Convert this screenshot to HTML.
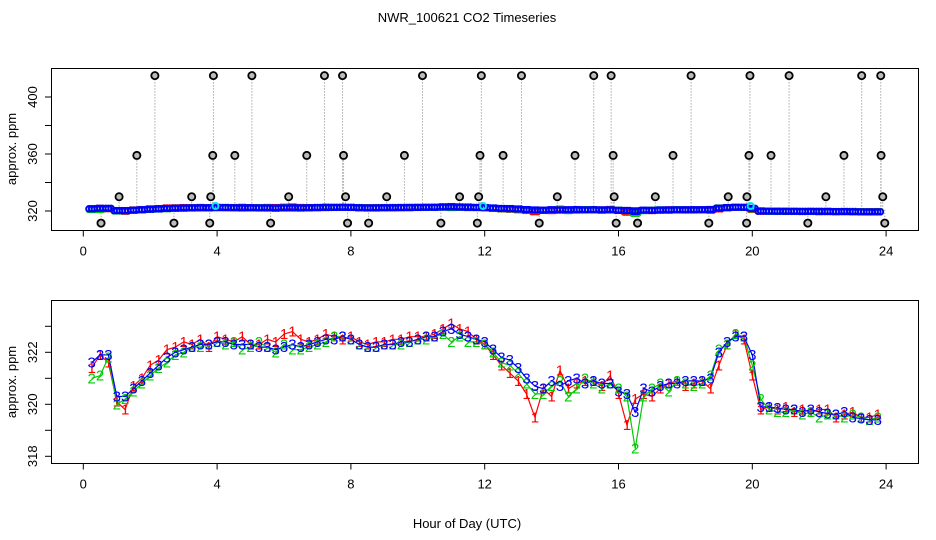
<!DOCTYPE html>
<html><head><meta charset="utf-8"><style>
body{margin:0;background:#fff}
svg{display:block;font-family:"Liberation Sans",sans-serif}
</style></head><body>
<svg id="chart" width="936" height="540" viewBox="0 0 936 540">
<text x="467" y="22" text-anchor="middle" font-size="13">NWR_100621  CO2 Timeseries</text>
<rect x="51.5" y="68.5" width="867" height="162" fill="none" stroke="#000"/>
<rect x="51.5" y="300.5" width="867" height="163" fill="none" stroke="#000"/>
<text transform="translate(16,149) rotate(-90)" text-anchor="middle" font-size="13">approx. ppm</text>
<text transform="translate(16,382) rotate(-90)" text-anchor="middle" font-size="13">approx. ppm</text>
<text x="467" y="528" text-anchor="middle" font-size="13">Hour of Day (UTC)</text>
<g id="top"></g><g id="bot"></g>
</svg>
<script>
const hours=[0.25,0.5,0.75,1,1.25,1.5,1.75,2,2.25,2.5,2.75,3,3.25,3.5,3.75,4,4.25,4.5,4.75,5,5.25,5.5,5.75,6,6.25,6.5,6.75,7,7.25,7.5,7.75,8,8.25,8.5,8.75,9,9.25,9.5,9.75,10,10.25,10.5,10.75,11,11.25,11.5,11.75,12,12.25,12.5,12.75,13,13.25,13.5,13.75,14,14.25,14.5,14.75,15,15.25,15.5,15.75,16,16.25,16.5,16.75,17,17.25,17.5,17.75,18,18.25,18.5,18.75,19,19.25,19.5,19.75,20,20.25,20.5,20.75,21,21.25,21.5,21.75,22,22.25,22.5,22.75,23,23.25,23.5,23.75];
const series3=[321.6,321.9,321.9,320.3,320.3,320.6,320.9,321.2,321.5,321.8,322.0,322.1,322.2,322.3,322.3,322.4,322.4,322.3,322.3,322.3,322.2,322.2,322.1,322.2,322.3,322.2,322.3,322.4,322.5,322.5,322.6,322.5,322.3,322.2,322.2,322.3,322.3,322.4,322.4,322.5,322.6,322.6,322.8,322.9,322.7,322.6,322.5,322.4,322.1,321.8,321.7,321.4,321.0,320.7,320.6,320.9,320.7,320.9,321.0,320.8,320.9,320.8,320.8,320.5,320.4,319.7,320.6,320.5,320.7,320.8,320.8,320.9,320.9,320.9,321.0,322.0,322.4,322.6,322.6,321.9,319.9,319.9,319.85,319.8,319.8,319.7,319.8,319.7,319.65,319.6,319.7,319.5,319.45,319.4,319.4];
const series1=[321.4,321.9,321.6,320.1,319.8,320.7,321.0,321.5,321.7,322.1,322.2,322.4,322.3,322.5,322.2,322.6,322.5,322.4,322.6,322.3,322.3,322.5,322.4,322.7,322.8,322.5,322.4,322.5,322.7,322.6,322.5,322.6,322.4,322.3,322.4,322.4,322.5,322.5,322.6,322.6,322.6,322.7,322.9,323.1,322.9,322.8,322.5,322.3,321.9,321.5,321.2,320.9,320.4,319.5,320.6,320.3,321.3,320.6,320.8,320.9,320.9,320.7,321.1,320.4,319.2,320.2,320.4,320.3,320.6,320.8,320.9,320.7,320.8,320.9,320.6,321.5,322.3,322.7,322.5,321.1,319.8,319.9,319.8,319.9,319.7,319.8,319.7,319.8,319.8,319.5,319.6,319.7,319.5,319.5,319.6];
const series2=[321.0,321.1,321.8,320.0,320.2,320.5,320.8,321.1,321.4,321.6,321.9,322.0,322.2,322.2,322.3,322.4,322.3,322.4,322.1,322.2,322.4,322.2,322.0,322.3,322.1,322.1,322.2,322.3,322.4,322.6,322.6,322.5,322.3,322.2,322.2,322.3,322.3,322.3,322.4,322.5,322.5,322.6,322.7,322.4,322.6,322.4,322.4,322.3,322.0,321.6,321.5,321.2,320.8,320.4,320.4,320.7,320.9,320.3,320.6,321.0,320.8,320.6,320.8,320.6,320.3,318.3,320.3,320.6,320.8,320.5,320.9,320.8,320.7,320.8,321.1,322.1,322.3,322.7,322.6,321.5,320.2,319.8,319.7,319.7,319.8,319.6,319.7,319.5,319.6,319.6,319.5,319.6,319.5,319.4,319.5];
const xTicks=[0,4,8,12,16,20,24];
const topYTicks=[320,340,360,380,400];
const topYLabels=[320,360,400];
const botYTicks=[318,319,320,321,322,323];
const botYLabels=[318,320,322];
const out415=[2.14,3.89,5.04,7.21,7.75,10.14,11.9,13.1,15.26,15.78,18.17,19.93,21.1,23.27,23.84];
const out359=[1.6,3.87,4.53,6.68,7.78,9.6,11.86,12.55,14.7,15.84,17.63,19.9,20.56,22.74,23.85];
const out330=[1.07,3.24,3.81,6.14,7.84,9.07,11.25,11.82,14.17,15.87,17.1,19.28,19.84,22.2,23.9];
const out311=[0.53,2.71,3.78,5.6,7.9,8.53,10.69,11.78,13.63,15.93,16.57,18.7,19.83,21.66,23.96];
const calHours=[3.95,11.95,19.95];
const calValues=[323.5,323.5,323.5];

const NS='http://www.w3.org/2000/svg';
const X=h=>83.3+h*33.45;
const YT=v=>211-(v-320)*1.425;
const YB=v=>404.3-(v-320)*26;
function mk(tag,attrs,parent){const e=document.createElementNS(NS,tag);for(const k in attrs)e.setAttribute(k,attrs[k]);parent.appendChild(e);return e;}
const gTop=document.getElementById('top'),gBot=document.getElementById('bot');

function axes(g,yTicks,yLabels,Y,bottom,pfx){
  xTicks.forEach(t=>{
    const l=mk('line',{x1:X(t),x2:X(t),y1:bottom,y2:bottom+6,stroke:'#000'},g);
    
    
    const tx=mk('text',{x:X(t),y:bottom+25,'text-anchor':'middle','font-size':13},g);
    tx.textContent=t;
    
    
  });
  yTicks.forEach(v=>{
    const l=mk('line',{x1:45,x2:51.5,y1:Y(v),y2:Y(v),stroke:'#000'},g);
    
    
  });
  yLabels.forEach(v=>{
    const tx=mk('text',{transform:`translate(37,${Y(v)}) rotate(-90)`,'text-anchor':'middle','font-size':13},g);
    tx.textContent=v;
    
    
  });
}
axes(gTop,topYTicks,topYLabels,YT,230.5,'top');
axes(gBot,botYTicks,botYLabels,YB,463.5,'bottom');

[[out415,415],[out359,359],[out330,330],[out311,311.5]].forEach(([arr,v])=>{
  arr.forEach(h=>{
    const l=mk('line',{x1:X(h),x2:X(h),y1:YT(321),y2:YT(v),stroke:'#aaa','stroke-dasharray':'1.5,1.5'},gTop);
    
    
  });
});
const cols=['#ff0000','#00cc00','#0000ff'];
const all=[series1,series2,series3];
all.forEach((s,si)=>{
  s.forEach((v,i)=>{
    [0,0.08,0.16].forEach(dh=>{
      const h=hours[i]+dh-0.08;
      const c=mk('circle',{cx:X(h),cy:YT(v),r:2.8,fill:'none',stroke:cols[si],'stroke-width':1.8},gTop);
      
      
    });
  });
});
calHours.forEach((h,i)=>{
  const c=mk('circle',{cx:X(h),cy:YT(calValues[i]),r:3,fill:'none',stroke:'#00e5ee','stroke-width':2},gTop);
  
  
});
[[out415,415],[out359,359],[out330,330],[out311,311.5]].forEach(([arr,v])=>{
  arr.forEach(h=>{
    const c=mk('circle',{cx:X(h),cy:YT(v),r:3.6,fill:'#bbb',stroke:'#000','stroke-width':1.8},gTop);
    
    
  });
});

all.forEach((s,si)=>{
  const d=s.map((v,i)=>(i?'L':'M')+X(hours[i]).toFixed(1)+','+YB(v).toFixed(1)).join('');
  const p=mk('path',{d:d,fill:'none',stroke:cols[si],'stroke-width':1.2},gBot);
  
  
});
all.forEach((s,si)=>{
  s.forEach((v,i)=>{
    const t=mk('text',{x:X(hours[i]),y:YB(v)+5,'text-anchor':'middle','font-size':15,fill:cols[si]},gBot);
    t.textContent=String(si+1);
    
    
  });
});
</script>
</body></html>
